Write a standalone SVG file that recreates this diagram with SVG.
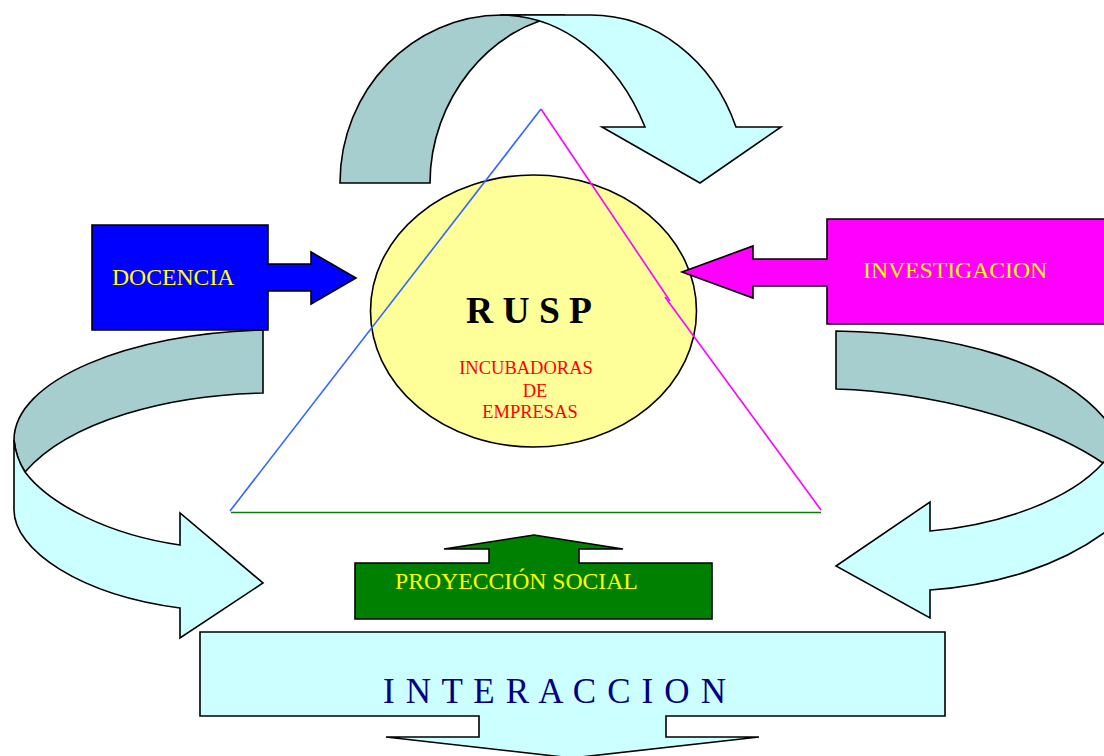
<svg xmlns="http://www.w3.org/2000/svg" width="1104" height="756" viewBox="0 0 1104 756">
<style>
.dark{fill:#A6CECE;stroke:#000;stroke-width:1.6;stroke-linejoin:miter}
.light{fill:#CCFFFF;stroke:#000;stroke-width:1.6;stroke-linejoin:miter}
.lbl{font-family:"Liberation Serif","Times New Roman",serif;font-size:23.7px;fill:#FFFF00}
.sub{font-family:"Liberation Serif","Times New Roman",serif;font-size:18.5px;fill:#FF0000;text-anchor:middle}
.box{stroke:#000;stroke-width:1.6;stroke-linejoin:miter}
</style>
<rect width="1104" height="756" fill="#fff"/>
<g id="connectors">
  <!-- top curved arrow -->
  <path class="dark" d="M340,183 C340,90 412.5,15 502,15 L565,15 C490,25 430,100 430,183 Z"/>
  <path class="light" d="M500,15 L590,15 A156,175 0 0 1 736,127 L781,127 L700,183 L602,127 L645,127 A162,205 0 0 0 500,15 Z"/>
  <!-- left curved arrow -->
  <path class="dark" d="M263,330 L263,393 C170,395 70,420 25,472 Q16,458 14,440 C14,380 130,333 263,330 Z"/>
  <path class="light" d="M14,440 L14,510 C14,550 80,595 180,608 L180,638 L263,583 L180,513 L180,545 C110,535 50,505 25,472 Q16,458 14,440 Z"/>
  <!-- right curved arrow -->
  <path class="dark" d="M836,331 C950,333 1060,360 1110,425 L1110,470 L1103,463 C1040,420 930,392 836,389 Z"/>
  <path class="light" d="M1103,463 L1110,455 L1110,528 L1104,533 C1060,565 1000,585 930,590 L930,618 L836,566 L930,502 L930,531 C1000,525 1070,500 1103,463 Z"/>
</g>
<g id="rusp">
  <ellipse cx="533.5" cy="311" rx="163" ry="136" fill="#FFFF99" stroke="#000" stroke-width="1.6"/>
  <text x="529" y="323" text-anchor="middle" font-family="Liberation Serif,'Times New Roman',serif" font-weight="bold" font-size="37.5" fill="#000">R U S P</text>
  <text class="sub" x="526" y="374">INCUBADORAS</text>
  <text class="sub" x="535" y="397">DE</text>
  <text class="sub" x="530" y="418">EMPRESAS</text>
</g>
<g id="triangle">
  <line x1="541" y1="109" x2="230" y2="511" stroke="#3366FF" stroke-width="1.6"/>
  <line x1="541" y1="109" x2="670" y2="301" stroke="#FF00FF" stroke-width="1.6"/>
  <line x1="665" y1="297" x2="821" y2="510" stroke="#FF00FF" stroke-width="1.6"/>
  <line x1="231" y1="512.5" x2="821" y2="512.5" stroke="#008000" stroke-width="1.6"/>
</g>
<g id="docencia">
  <path class="box" fill="#0000FF" d="M92,225 L268,225 L268,264 L311,264 L311,252 L356,278 L311,304 L311,291 L268,291 L268,330 L92,330 Z"/>
  <text class="lbl" x="112" y="285">DOCENCIA</text>
</g>
<g id="investigacion">
  <path class="box" fill="#FF00FF" d="M1108,219 L827,219 L827,259 L753,259 L753,246 L682,272 L753,298 L753,286 L827,286 L827,324 L1108,324 Z"/>
  <text class="lbl" x="863" y="278">INVESTIGACION</text>
</g>
<g id="proyeccion">
  <path class="box" fill="#008000" d="M355,563 L489,563 L489,549 L444,549 L534,535 L623,549 L579,549 L579,563 L712,563 L712,619 L355,619 Z"/>
  <text class="lbl" x="395" y="589">PROYECCIÓN SOCIAL</text>
</g>
<g id="interaccion">
  <path class="box" fill="#CCFFFF" d="M200,632 L945,632 L945,716 L666,716 L666,737 L759,737 L572,758 L386,737 L479,737 L479,716 L200,716 Z"/>
  <text x="383" y="703" font-family="Liberation Serif,'Times New Roman',serif" font-size="35" fill="#000080" textLength="343" lengthAdjust="spacing">I N T E R A C C I O N</text>
</g>
</svg>
